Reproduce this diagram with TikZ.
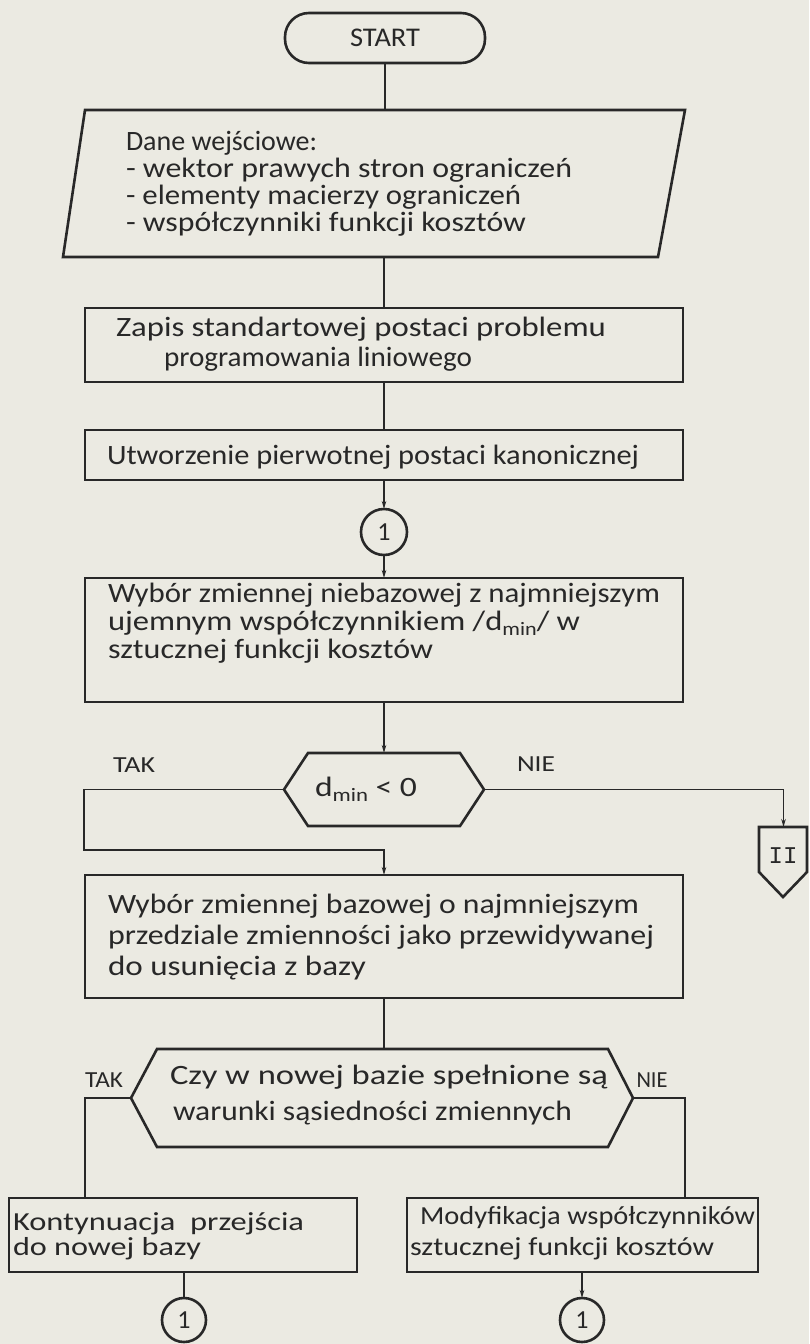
\documentclass[tikz,border=0pt]{standalone}
\usepackage{fontspec}
\setmainfont{Carlito}
\newfontfamily\monof{Liberation Mono}
\usepackage{graphicx}
\usetikzlibrary{arrows.meta,calc}
\definecolor{bgc}{RGB}{235,234,226}
\definecolor{ink}{RGB}{40,40,40}
\newcommand{\fl}[2]{\resizebox{#1pt}{\height}{#2}}
\newcommand{\dmin}{d\raisebox{-5pt}{\fontsize{19}{19}\selectfont min}}
\begin{document}
\begin{tikzpicture}[x=1pt,y=-1pt,
  every node/.style={inner sep=0pt, outer sep=0pt, text=ink},
  shapebox/.style={draw=ink, line width=2.6pt},
  ghost/.style={draw=none, minimum width=#1},
  conn/.style={draw=ink, line width=1.6pt},
  arr/.style={conn, -{Stealth[length=8pt,width=4.5pt]}},
  txt/.style={align=left, anchor=west},
  lbl/.style={font=\fontsize{23}{23}\selectfont}]

\fill[bgc] (0,0) rectangle (809,1344);
\useasboundingbox (0,0) rectangle (809,1344);

% START
\node[shapebox, rounded corners=24pt, minimum width=200pt, minimum height=50pt,
      font=\fontsize{27}{27}\selectfont] (start) at (385,38) {\fl{70}{START}};

% input data (parallelogram)
\node[ghost=600pt, minimum height=147pt] (data) at (374,183.5) {};
\draw[shapebox] (85,110) -- (685,110) -- (658,257) -- (63,257) -- cycle;
\node[txt, font=\fontsize{28}{27}\selectfont] (datatxt) at (126,184)
  {\fl{191}{Dane wejściowe:}\\
   \fl{446}{- wektor prawych stron ograniczeń}\\
   \fl{395}{- elementy macierzy ograniczeń}\\
   \fl{400}{- współczynniki funkcji kosztów}};

% standard form
\node[shapebox, minimum width=598pt, minimum height=74pt] (zapis) at (384,345) {};
\node[txt, font=\fontsize{28}{30}\selectfont] (zapistxt) at (116,344)
  {\fl{490}{Zapis standartowej postaci problemu}\\
   \hspace*{48pt}\fl{308}{programowania liniowego}};

% canonical form
\node[shapebox, minimum width=598pt, minimum height=50pt] (utw) at (384,455) {};
\node[txt, font=\fontsize{28}{30}\selectfont] (utwtxt) at (107,457)
  {\fl{532}{Utworzenie pierwotnej postaci kanonicznej}};

% connector 1
\node[shapebox, circle, minimum size=46pt, font=\fontsize{26}{26}\selectfont] (c1) at (384,532) {1};

% choose non-basic variable
\node[shapebox, minimum width=598pt, minimum height=124pt] (wyb1) at (384,640) {};
\node[txt, font=\fontsize{28}{28}\selectfont] (wyb1txt) at (108,623)
  {\fl{552}{Wybór zmiennej niebazowej z najmniejszym}\\
   \fl{472}{ujemnym współczynnikiem /\dmin/ w}\\
   \fl{325}{sztucznej funkcji kosztów}};

% decision d_min < 0
\node[ghost=200pt, minimum height=73pt] (h1) at (384,789.5) {};
\draw[shapebox] (284,789.5) -- (308,753) -- (460,753) -- (484,789.5) -- (460,826) -- (308,826) -- cycle;
\node[font=\fontsize{28}{28}\selectfont] (h1txt) at (366,789) {\fl{102}{\dmin\ < 0}};
\node[lbl] (tak1) at (134,765) {\fl{42}{TAK}};
\node[lbl] (nie1) at (536,764) {\fl{38}{NIE}};

% off-page connector II
\node[ghost=49pt, minimum height=70pt] (ii) at (783.5,862) {};
\draw[shapebox] (759,827) -- (807,827) -- (807,872) -- (783,897) -- (759,872) -- cycle;
\node[font=\monof\fontsize{24}{24}\selectfont] (iitxt) at (783,856) {II};

% choose basic variable
\node[shapebox, minimum width=598pt, minimum height=123pt] (wyb2) at (384,936.5) {};
\node[txt, font=\fontsize{28}{31}\selectfont] (wyb2txt) at (108,937)
  {\fl{531}{Wybór zmiennej bazowej o najmniejszym}\\
   \fl{546}{przedziale zmienności jako przewidywanej}\\
   \fl{258}{do usunięcia z bazy}};

% decision adjacency
\node[ghost=502pt, minimum height=98pt] (h2) at (382,1098) {};
\draw[shapebox] (131,1098) -- (157,1049) -- (608,1049) -- (633,1098) -- (608,1147) -- (157,1147) -- cycle;
\node[txt, font=\fontsize{28}{36}\selectfont] (h2txt) at (170,1095)
  {\fl{438}{Czy w nowej bazie spełnione są}\\
   \hspace*{3pt}\fl{399}{warunki sąsiedności zmiennych}};
\node[lbl] (tak2) at (104,1080) {\fl{38}{TAK}};
\node[lbl] (nie2) at (652,1080) {\fl{31}{NIE}};

% continue
\node[shapebox, minimum width=348pt, minimum height=74pt] (kont) at (183,1235) {};
\node[txt, font=\fontsize{26}{25}\selectfont] (konttxt) at (13,1236)
  {\fl{291}{Kontynuacja\ \ przejścia}\\
   \fl{188}{do nowej bazy}};

% modify
\node[shapebox, minimum width=351pt, minimum height=74pt] (mod) at (582.5,1235) {};
\node[txt, font=\fontsize{26}{31}\selectfont] (modtxt) at (410,1233)
  {\hspace*{10pt}\fl{335}{Modyfikacja współczynników}\\
   \fl{304}{sztucznej funkcji kosztów}};

% end connectors
\node[shapebox, circle, minimum size=44pt, font=\fontsize{26}{26}\selectfont] (c2) at (184,1320) {1};
\node[shapebox, circle, minimum size=44pt, font=\fontsize{26}{26}\selectfont] (c3) at (582,1320) {1};

% connectors
\draw[conn] (start.south) -- (start.south |- data.north);
\draw[conn] (zapis.north |- data.south) -- (zapis.north);
\draw[conn] (zapis.south) -- (utw.north);
\draw[arr] (utw.south) -- (c1.north);
\draw[arr] (c1.south) -- (wyb1.north);
\draw[arr] (wyb1.south) -- (h1.north);
\draw[arr] (h1.west) -- (84,789.5) |- (384,850) -- (wyb2.north);
\draw[arr] (h1.east) -| (ii.north);
\draw[conn] (wyb2.south) -- (wyb2.south |- h2.north);
\draw[conn] (h2.west) -| ([xshift=76pt]kont.north west);
\draw[conn] (h2.east) -| ([xshift=278pt]mod.north west);
\draw[conn] (c2.north |- kont.south) -- (c2.north);
\draw[arr] (c3.north |- mod.south) -- (c3.north);
\end{tikzpicture}
\end{document}
